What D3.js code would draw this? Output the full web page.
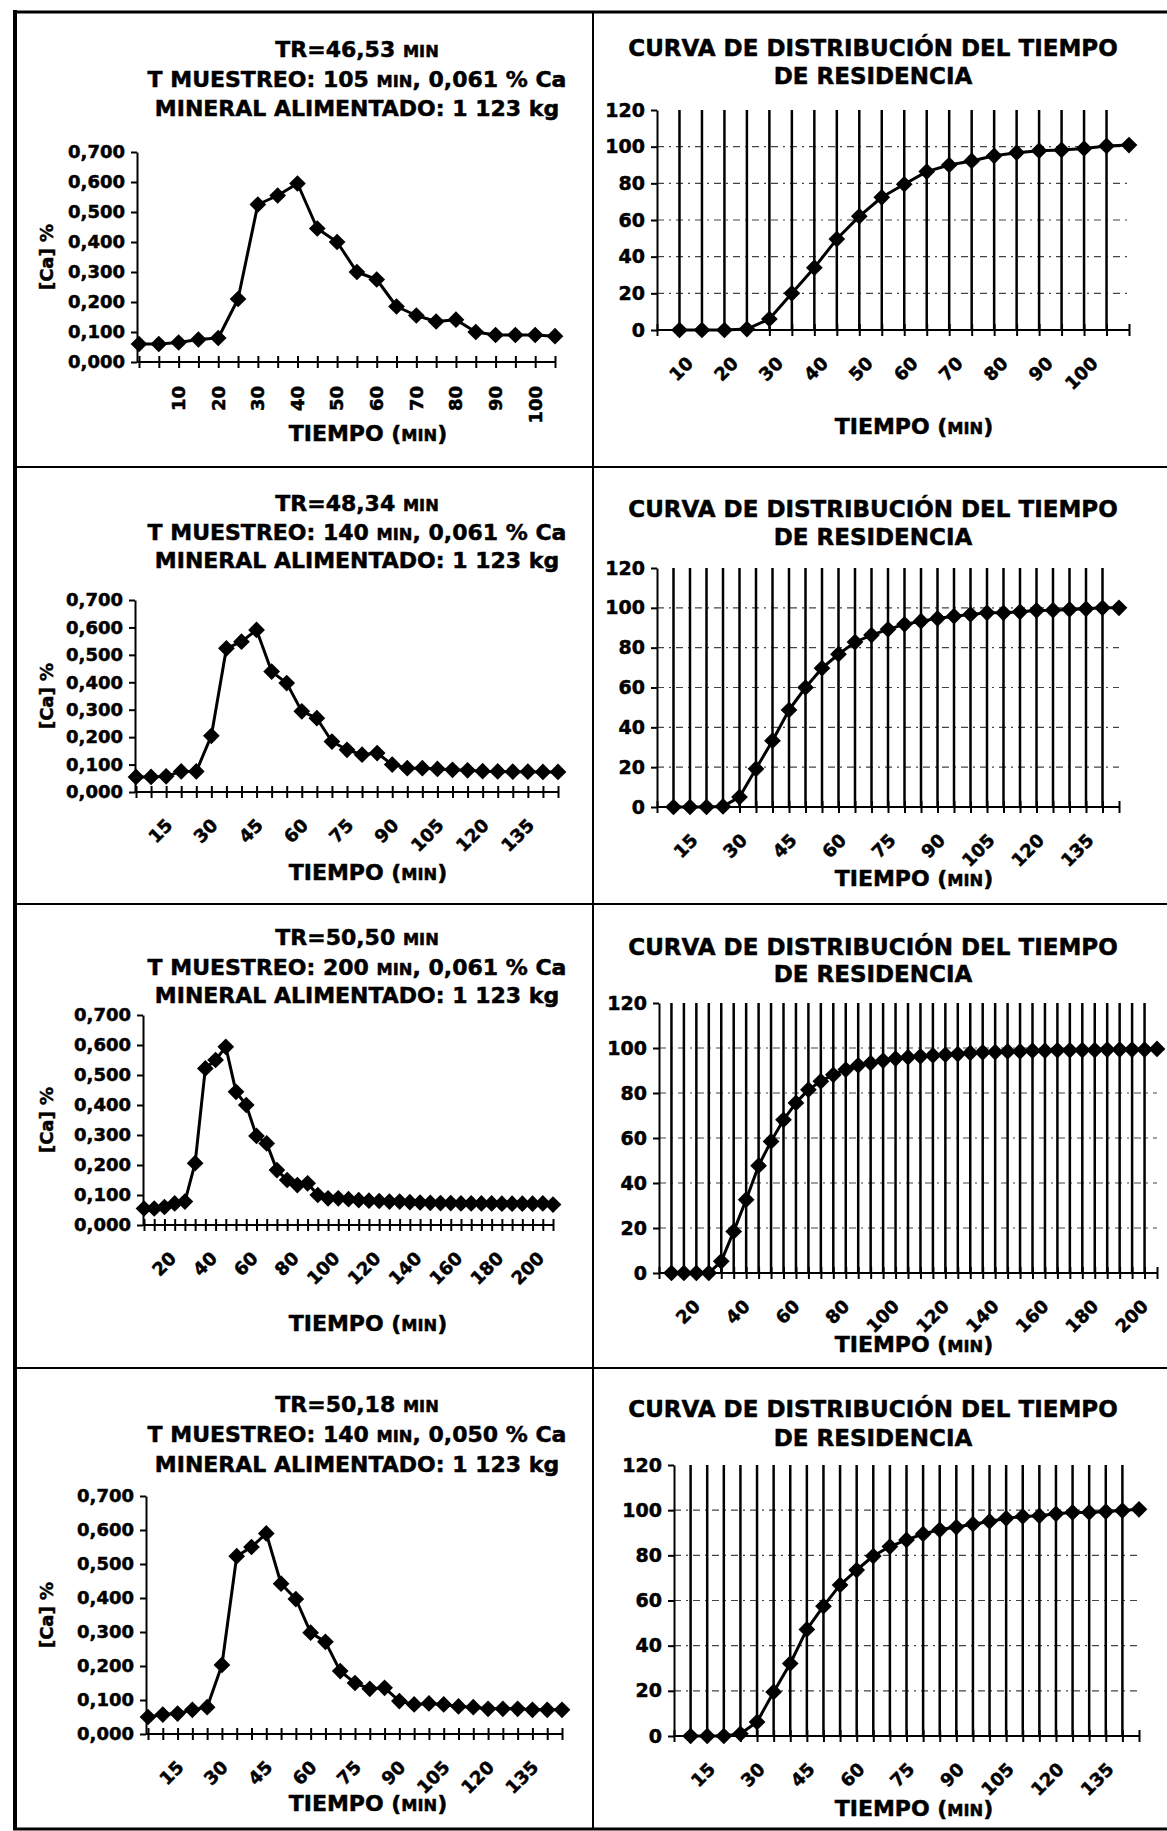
<!DOCTYPE html>
<html>
<head>
<meta charset="utf-8">
<script src="https://cdn.jsdelivr.net/npm/d3@7"></script>
<style>
  body { margin: 0; background: #fff; }
  svg { display: block; }
  text { font-family: "DejaVu Sans", sans-serif; font-weight: bold; fill: #000; stroke: #000; stroke-width: 0.5px; }
</style>
</head>
<body>
<script>
// tiempos de muestreo (min)
const tiempo105 = [0,5,10,15,20,25,30,35,40,45,50,55,60,65,70,75,80,85,90,95,100,105];
const tiempo140 = [0,5,10,15,20,25,30,35,40,45,50,55,60,65,70,75,80,85,90,95,100,105,110,115,120,125,130,135,140];
const tiempo200 = [0,5,10,15,20,25,30,35,40,45,50,55,60,65,70,75,80,85,90,95,100,105,110,115,120,125,130,135,140,
  145,150,155,160,165,170,175,180,185,190,195,200];

// [Ca] % en cada muestra
const ca1 = [0.060,0.060,0.065,0.075,0.080,0.210,0.525,0.555,0.595,0.445,0.400,0.300,0.275,0.185,0.155,0.135,0.141,0.100,0.090,0.090,0.090,0.086];
const ca2 = [0.055,0.055,0.057,0.075,0.075,0.205,0.524,0.548,0.591,0.439,0.397,0.294,0.269,0.184,0.154,0.136,0.142,0.100,0.087,0.087,
  0.084,0.081,0.079,0.076,0.075,0.074,0.074,0.073,0.073];
const ca3 = [0.055,0.055,0.060,0.072,0.078,0.206,0.522,0.550,0.594,0.444,0.400,0.297,0.272,0.183,0.150,0.133,0.139,0.100,0.089,0.089,
  0.086,0.083,0.081,0.080,0.078,0.078,0.076,0.075,0.074,0.073,0.073,0.072,0.072,0.072,0.072,0.071,0.071,0.071,0.071,0.072,0.068];
const ca4 = [0.050,0.057,0.060,0.071,0.079,0.203,0.523,0.550,0.590,0.442,0.397,0.298,0.271,0.185,0.150,0.133,0.136,0.097,0.087,0.090,
  0.087,0.081,0.079,0.074,0.074,0.074,0.071,0.071,0.071];

// curva de distribucion del tiempo de residencia (%), desde t = 5 min
const dtr1 = [0,0,0,0.5,6,20,34,49.6,62,72.4,79.5,86.4,90,92.2,95,96.7,97.8,98.2,99,100.4,100.9];
const dtr2 = [0,0,0,0.3,5,19.2,33.3,48.7,60,69.7,76.7,82.8,86.3,89.2,91.7,93.3,94.7,95.8,96.7,97.5,97.5,98,98.7,98.8,99.2,99.5,100,100];
const dtr3 = [0,0,0,0,5.2,18.5,32.6,47.7,58.5,68.1,75.6,81.5,85.2,88.1,90.4,92.3,93.3,94.4,95.3,95.9,
  96.3,96.7,97.0,97.3,97.8,98.1,98.2,98.5,98.5,98.8,98.8,99.0,99.0,99.1,99.1,99.3,99.3,99.3,99.3,99.6];
const dtr4 = [0,0,0,1,6.2,19.5,32.1,47.2,57.5,66.9,73.5,79.7,83.9,86.8,89.5,91.3,92.5,93.8,95.0,96.4,97.2,97.5,98.4,99.0,99.0,99.4,99.8,100.4];

// etiquetas de los ejes
const etiq105 = [10,20,30,40,50,60,70,80,90,100];
const etiq140 = [15,30,45,60,75,90,105,120,135];
const etiq200 = [20,40,60,80,100,120,140,160,180,200];
const caTicks = [0,0.1,0.2,0.3,0.4,0.5,0.6,0.7];
const dtrTicks = [0,20,40,60,80,100,120];
const dtrGrid = [20,40,60,80,100];

// textos de cabecera
const trMin = ["46,53","48,34","50,50","50,18"];
const tMuestreo = ["105","140","200","140"];
const caAlim = ["0,061","0,061","0,061","0,050"];
const mineral = ["1 123 kg","1 123 kg","1 123 kg","1 123 kg"];

// posiciones de cada grafico (px)
const layCa = [
  {tx: 357, ty: [57, 87, 116], ax: 137, x0: 139, x1: 555, y0: 362, y1: 152, rot: -90, xt: 441},
  {tx: 357, ty: [511, 540, 568], ax: 135, x0: 136, x1: 558, y0: 792, y1: 600, rot: -45, xt: 880},
  {tx: 357, ty: [945, 975, 1003], ax: 143, x0: 144, x1: 553, y0: 1225, y1: 1015, rot: -45, xt: 1331},
  {tx: 357, ty: [1412, 1442, 1472], ax: 146, x0: 148, x1: 562, y0: 1734, y1: 1496, rot: -45, xt: 1811}
];
const layDtr = [
  {tx: 873, ty: [56, 84], ax: 657, x1: 1129, y0: 330, y1: 110, xt: 434},
  {tx: 873, ty: [517, 545], ax: 657, x1: 1119, y0: 807, y1: 568, xt: 886},
  {tx: 873, ty: [955, 982], ax: 659, x1: 1157, y0: 1273, y1: 1003, xt: 1352},
  {tx: 873, ty: [1417, 1446], ax: 674, x1: 1139, y0: 1736, y1: 1465, xt: 1816}
];

const W = 1167, H = 1831;
const svg = d3.select("body").append("svg").attr("width", W).attr("height", H);
svg.append("rect").attr("width", W).attr("height", H).attr("fill", "#fff");

// marco de la figura
const frame = svg.append("g").attr("stroke", "#000");
frame.append("line").attr("x1", 15).attr("x2", 15).attr("y1", 10).attr("y2", 1830).attr("stroke-width", 4);
frame.append("line").attr("x1", 13).attr("x2", W).attr("y1", 12).attr("y2", 12).attr("stroke-width", 3);
frame.append("line").attr("x1", 13).attr("x2", W).attr("y1", 1829).attr("y2", 1829).attr("stroke-width", 3);
frame.append("line").attr("x1", 593).attr("x2", 593).attr("y1", 12).attr("y2", 1829).attr("stroke-width", 2);
[467, 904, 1368].forEach(yy => {
  frame.append("line").attr("x1", 15).attr("x2", W).attr("y1", yy).attr("y2", yy).attr("stroke-width", 2);
});

const fmtCa = d => d3.format(".3f")(d).replace(".", ",");
const marker = d3.symbol().type(d3.symbolSquare).size(140);

// linea de texto con partes en versalita
function textLine(g, x, y, parts, size) {
  const t = g.append("text").attr("x", x).attr("y", y).attr("text-anchor", "middle").style("font-size", size + "px");
  parts.forEach(p => {
    t.append("tspan").style("font-size", (p[1] ? size * 0.74 : size) + "px").text(p[0]);
  });
  return t;
}

function drawSeries(g, x, y, tiempos, valores) {
  const pts = tiempos.map((t, i) => [t, valores[i]]);
  g.append("path").datum(pts)
    .attr("fill", "none").attr("stroke", "#000").attr("stroke-width", 3).attr("stroke-linejoin", "round")
    .attr("d", d3.line().x(d => x(d[0])).y(d => y(d[1])));
  g.selectAll(".mk").data(pts).join("path").attr("class", "mk")
    .attr("d", marker).attr("fill", "#000")
    .attr("transform", d => `translate(${x(d[0])},${y(d[1])}) rotate(45)`);
}

function xAxisCross(g, x, tiempos, cfg, x0) {
  const axis = d3.axisBottom(x).tickValues(tiempos).tickFormat("").tickSizeOuter(0);
  const ga = g.append("g").attr("transform", `translate(0,${cfg.y0})`).call(axis);
  ga.select(".domain").attr("d", `M${x0},0H${x(tiempos[tiempos.length - 1])}`).attr("stroke-width", 2);
  ga.selectAll(".tick line").attr("y1", -6).attr("y2", 6).attr("stroke-width", 2);
}

function xLabels(g, x, etiquetas, cfg, rot) {
  g.selectAll(".xl").data(etiquetas).join("text").attr("class", "xl")
    .attr("text-anchor", "end").attr("dy", "0.35em")
    .style("font-size", "18px")
    .attr("transform", d => rot === -90
      ? `translate(${x(d)},${cfg.y0 + 24}) rotate(-90)`
      : `translate(${x(d) - 12},${cfg.y0 + 30}) rotate(-45)`)
    .text(d => d);
}

function xTitle(g, cx, y) {
  textLine(g, cx, y, [["TIEMPO ("], ["MIN", true], [")"]], 22);
}

function panelCa(i, tiempos, valores, etiquetas) {
  const cfg = layCa[i];
  const g = svg.append("g");
  const x = d3.scaleLinear().domain([tiempos[0], tiempos[tiempos.length - 1]]).range([cfg.x0, cfg.x1]);
  const y = d3.scaleLinear().domain([0, 0.7]).range([cfg.y0, cfg.y1]);

  textLine(g, cfg.tx, cfg.ty[0], [["TR=" + trMin[i] + " "], ["MIN", true]], 22);
  textLine(g, cfg.tx, cfg.ty[1], [["T MUESTREO: " + tMuestreo[i] + " "], ["MIN", true], [", " + caAlim[i] + " % Ca"]], 22);
  textLine(g, cfg.tx, cfg.ty[2], [["MINERAL ALIMENTADO: " + mineral[i]]], 22);

  const ya = g.append("g").attr("transform", `translate(${cfg.ax},0)`)
    .call(d3.axisLeft(y).tickValues(caTicks).tickFormat(fmtCa).tickSize(6).tickSizeOuter(0).tickPadding(6));
  ya.select(".domain").attr("stroke-width", 2);
  ya.selectAll(".tick line").attr("stroke-width", 2);
  ya.selectAll("text").attr("font-family", null).attr("font-size", null).style("font-size", "18px");

  xAxisCross(g, x, tiempos, cfg, cfg.ax);
  xLabels(g, x, etiquetas, cfg, cfg.rot);
  xTitle(g, 368, cfg.xt);

  g.append("text").attr("text-anchor", "middle").attr("dy", "0.35em")
    .attr("transform", `translate(47,${(cfg.y0 + cfg.y1) / 2}) rotate(-90)`)
    .style("font-size", "18px").text("[Ca] %");

  drawSeries(g, x, y, tiempos, valores);
}

function panelDtr(i, tiempos, valores, etiquetas) {
  const cfg = layDtr[i];
  const g = svg.append("g");
  const x = d3.scaleLinear().domain([tiempos[0], tiempos[tiempos.length - 1]]).range([cfg.ax, cfg.x1]);
  const y = d3.scaleLinear().domain([0, 120]).range([cfg.y0, cfg.y1]);
  const tSerie = tiempos.slice(1);

  textLine(g, cfg.tx, cfg.ty[0], [["CURVA DE DISTRIBUCIÓN DEL TIEMPO"]], 23);
  textLine(g, cfg.tx, cfg.ty[1], [["DE RESIDENCIA"]], 23);

  // lineas de division horizontales
  g.selectAll(".hg").data(dtrGrid).join("line").attr("class", "hg")
    .attr("x1", cfg.ax).attr("x2", cfg.x1).attr("y1", d => y(d)).attr("y2", d => y(d))
    .attr("stroke", "#444").attr("stroke-width", 1.2).attr("stroke-dasharray", "7 5 2 5");
  // lineas verticales en cada categoria
  g.selectAll(".vg").data(tSerie.slice(0, -1)).join("line").attr("class", "vg")
    .attr("x1", d => x(d)).attr("x2", d => x(d)).attr("y1", y(120)).attr("y2", y(0))
    .attr("stroke", "#000").attr("stroke-width", 2.5);

  const ya = g.append("g").attr("transform", `translate(${cfg.ax},0)`)
    .call(d3.axisLeft(y).tickValues(dtrTicks).tickSize(6).tickSizeOuter(0).tickPadding(6));
  ya.select(".domain").attr("stroke-width", 2);
  ya.selectAll(".tick line").attr("stroke-width", 2);
  ya.selectAll("text").attr("font-family", null).attr("font-size", null).style("font-size", "19px");

  xAxisCross(g, x, tiempos, cfg, cfg.ax);
  xLabels(g, x, etiquetas, cfg, -45);
  xTitle(g, 914, cfg.xt);

  drawSeries(g, x, y, tSerie, valores);
}

panelCa(0, tiempo105, ca1, etiq105);
panelCa(1, tiempo140, ca2, etiq140);
panelCa(2, tiempo200, ca3, etiq200);
panelCa(3, tiempo140, ca4, etiq140);

panelDtr(0, tiempo105, dtr1, etiq105);
panelDtr(1, tiempo140, dtr2, etiq140);
panelDtr(2, tiempo200, dtr3, etiq200);
panelDtr(3, tiempo140, dtr4, etiq140);
</script>
</body>
</html>
